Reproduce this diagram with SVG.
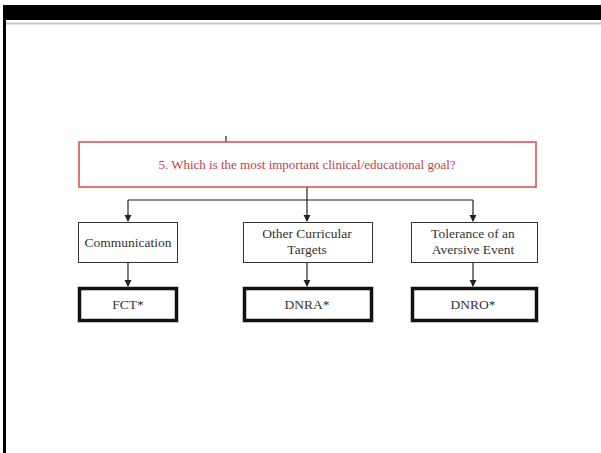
<svg xmlns="http://www.w3.org/2000/svg" width="601" height="453" viewBox="0 0 601 453">
  <style>
    .frame { fill: #000; }
    .rule { stroke: #c8c8c8; stroke-width: 2; }
    .goal { fill: #fff; stroke: #d9474f; stroke-width: 1.5; }
    .goaltext { font-family: "Liberation Serif", serif; font-size: 13px; fill: #c0424a; text-anchor: middle; }
    .area { fill: #fff; stroke: #333; stroke-width: 1; }
    .proc { fill: #fff; stroke: #111; stroke-width: 3.5; }
    .label { font-family: "Liberation Serif", serif; font-size: 13.5px; fill: #333; text-anchor: middle; }
    .wire { fill: none; stroke: #222; stroke-width: 1.2; }
  </style>
  <defs>
    <marker id="arrow" viewBox="0 0 8 8" refX="7" refY="4" markerWidth="6" markerHeight="6" orient="auto">
      <path d="M0,0 L8,4 L0,8 z" fill="#222"/>
    </marker>
  </defs>

  <rect width="601" height="453" fill="#fff"/>

  <!-- slide frame -->
  <rect class="frame" x="3" y="5" width="598" height="15"/>
  <rect class="frame" x="3" y="5" width="3" height="448"/>
  <line class="rule" x1="6" y1="23.5" x2="601" y2="23.5"/>

  <!-- connectors -->
  <g id="connectors">
    <line class="wire" x1="226" y1="136" x2="226" y2="142"/>
    <path class="wire" d="M307,187 V200"/>
    <path class="wire" d="M128,200 H473"/>
    <path class="wire" d="M128,200 V221" marker-end="url(#arrow)"/>
    <path class="wire" d="M307,200 V221" marker-end="url(#arrow)"/>
    <path class="wire" d="M473,200 V221" marker-end="url(#arrow)"/>
    <path class="wire" d="M128,262 V286" marker-end="url(#arrow)"/>
    <path class="wire" d="M307,262 V286" marker-end="url(#arrow)"/>
    <path class="wire" d="M473,262 V286" marker-end="url(#arrow)"/>
  </g>

  <g id="goal">
    <rect class="goal" x="79" y="142" width="457" height="45"/>
    <text class="goaltext" x="307" y="169">5. Which is the most important clinical/educational goal?</text>
  </g>

  <g id="communication">
    <rect class="area" x="78.5" y="222.5" width="99" height="40"/>
    <text class="label" x="128" y="247">Communication</text>
  </g>
  <g id="other-targets">
    <rect class="area" x="243.5" y="222.5" width="129" height="40"/>
    <text class="label" x="307" y="238">Other Curricular</text>
    <text class="label" x="307" y="254">Targets</text>
  </g>
  <g id="tolerance">
    <rect class="area" x="411.5" y="222.5" width="126" height="40"/>
    <text class="label" x="473" y="238">Tolerance of an</text>
    <text class="label" x="473" y="254">Aversive Event</text>
  </g>

  <g id="fct">
    <rect class="proc" x="79.5" y="288.5" width="97" height="32"/>
    <text class="label" x="128" y="309">FCT*</text>
  </g>
  <g id="dnra">
    <rect class="proc" x="244.5" y="288.5" width="127" height="32"/>
    <text class="label" x="307" y="309">DNRA*</text>
  </g>
  <g id="dnro">
    <rect class="proc" x="412.5" y="288.5" width="124" height="32"/>
    <text class="label" x="473" y="309">DNRO*</text>
  </g>
</svg>
